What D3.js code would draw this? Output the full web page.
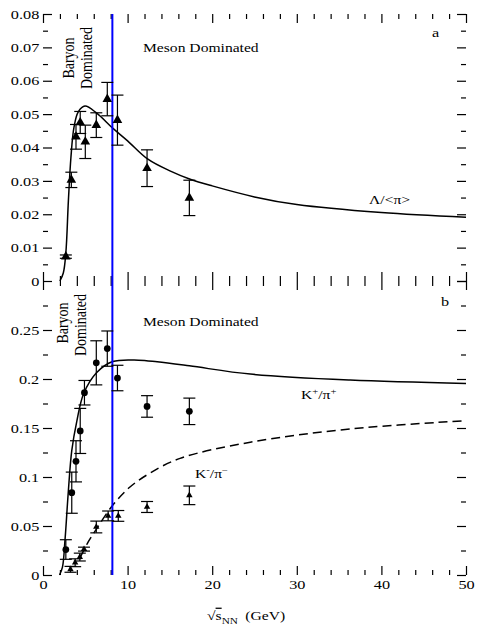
<!DOCTYPE html>
<html>
<head>
<meta charset="utf-8">
<script src="https://cdn.jsdelivr.net/npm/d3@7"></script>
<style>
body { margin: 0; background: #fff; }
svg text { font-family: "Liberation Serif", "Times New Roman", serif; fill: #000; }
</style>
</head>
<body>
<div id="chart"></div>
<script>
(function () {

// panel a : Lambda / <pi>
var lamE   = [2.7, 3.35, 3.9, 4.4, 5.0, 6.3, 7.6, 8.8, 12.3, 17.3];
var lamVal = [0.0073, 0.0303, 0.0432, 0.0475, 0.0417, 0.0467, 0.0545, 0.0482, 0.0338, 0.0249];
var lamErr = [0.0005, 0.0023, 0.0037, 0.0033, 0.005, 0.0037, 0.005, 0.0075, 0.0055, 0.0053];
var lamCurveE = [2.0, 2.4, 2.7, 3.0, 3.3, 3.66, 4.17, 4.96, 6.35, 8.24, 10, 12.4, 15, 17.4, 20, 25, 30, 40, 50];
var lamCurveV = [0, 0.0024, 0.0084, 0.024, 0.037, 0.046, 0.0507, 0.0524, 0.0503, 0.0458, 0.042, 0.0365, 0.033, 0.0305, 0.0285, 0.0252, 0.0229, 0.0205, 0.0191];

// panel b : K+/pi+ and K-/pi-
var kpE   = [2.7, 3.4, 3.9, 4.4, 4.9, 6.3, 7.6, 8.8, 12.3, 17.3];
var kpVal = [0.026, 0.084, 0.116, 0.147, 0.186, 0.2165, 0.231, 0.201, 0.172, 0.167];
var kpErr = [0.01, 0.021, 0.021, 0.023, 0.0125, 0.0225, 0.018, 0.013, 0.011, 0.0135];
var kmE   = [3.25, 3.8, 4.35, 4.85, 6.3, 7.7, 8.9, 12.3, 17.3];
var kmVal = [0.0058, 0.0125, 0.0183, 0.0264, 0.049, 0.0603, 0.0603, 0.0694, 0.0813];
var kmErr = [0.003, 0.004, 0.004, 0.002, 0.006, 0.005, 0.0055, 0.0056, 0.0095];
var kpCurveE = [1.95, 2.3, 2.6, 3.0, 3.4, 4.0, 4.8, 6.35, 8.24, 11.3, 13.5, 17.3, 24.5, 36.3, 50];
var kpCurveV = [0, 0.008, 0.0356, 0.086, 0.127, 0.157, 0.185, 0.2066, 0.2178, 0.2192, 0.2175, 0.2134, 0.205, 0.1989, 0.1954];
var kmCurveE = [4.4, 5.36, 6.35, 8.24, 10.28, 12.65, 16.2, 24.5, 36.3, 50];
var kmCurveV = [0.018, 0.034, 0.0474, 0.0711, 0.0898, 0.104, 0.119, 0.1355, 0.149, 0.1575];

var boundaryE = 8.2;   // baryon / meson dominated

var xMajor = [0, 10, 20, 30, 40, 50];
var xMinor = d3.range(0, 51, 2).filter(function (d) { return d % 10 !== 0; });
var yaMajor = d3.range(0, 9).map(function (i) { return i * 0.01; });
var yaMinor = d3.range(0, 8).map(function (i) { return i * 0.01 + 0.005; });
var ybMajor = d3.range(0, 7).map(function (i) { return i * 0.05; });
var ybMinor = d3.range(0, 6).map(function (i) { return i * 0.05 + 0.025; });

var margin = {top: 14, right: 11, bottom: 52, left: 43},
    width = 477 - margin.left - margin.right,
    hA = 267,
    hB = 294;

var x = d3.scaleLinear().domain([0, 50]).range([margin.left, margin.left + width]);
var yA = d3.scaleLinear().domain([0, 0.08]).range([margin.top + hA, margin.top]);
var yB = d3.scaleLinear().domain([0, 0.3]).range([margin.top + hA + hB, margin.top + hA]);

var svg = d3.select("#chart").append("svg")
    .attr("width", 477)
    .attr("height", 627);

var fmt = d3.format("~g");
var sx = 1.25;  // the original figure is stretched sideways

function axis(fn, scale, values, size, tr, labels) {
	var a = fn(scale).tickValues(values).tickSize(-size).tickPadding(labels ? 3 : 0)
		.tickFormat(labels ? fmt : "");
	var g = svg.append("g").attr("transform", tr).call(a);
	g.select(".domain").remove();
	g.attr("font-size", 13);
	g.selectAll("line").attr("stroke", "#000").attr("stroke-width", 1.2);
	if (labels) g.selectAll("text").attr("transform", "scale(" + sx + ",1)");
	return g;
}

var topA = margin.top, botA = margin.top + hA, botB = margin.top + hA + hB;
var right = margin.left + width;

[[xMajor, 9], [xMinor, 5]].forEach(function (t) {
	axis(d3.axisTop, x, t[0], t[1], "translate(0," + topA + ")", false);
	axis(d3.axisBottom, x, t[0], t[1], "translate(0," + botA + ")", false);
	axis(d3.axisTop, x, t[0], t[1], "translate(0," + botA + ")", false);
});
axis(d3.axisBottom, x, xMajor, 9, "translate(0," + botB + ")", true)
	.selectAll("text").attr("y", 5);
axis(d3.axisBottom, x, xMinor, 5, "translate(0," + botB + ")", false);

axis(d3.axisLeft, yA, yaMajor, 9, "translate(" + margin.left + ",0)", true);
axis(d3.axisLeft, yA, yaMinor, 5, "translate(" + margin.left + ",0)", false);
axis(d3.axisRight, yA, yaMajor, 9, "translate(" + right + ",0)", false);
axis(d3.axisRight, yA, yaMinor, 5, "translate(" + right + ",0)", false);

axis(d3.axisLeft, yB, ybMajor.slice(0, 6), 9, "translate(" + margin.left + ",0)", true);
axis(d3.axisLeft, yB, ybMinor, 5, "translate(" + margin.left + ",0)", false);
axis(d3.axisRight, yB, ybMajor, 9, "translate(" + right + ",0)", false);
axis(d3.axisRight, yB, ybMinor, 5, "translate(" + right + ",0)", false);

// curves
function curve(es, vs, y, dash) {
	var line = d3.line()
		.x(function (d) { return x(d[0]); })
		.y(function (d) { return y(d[1]); })
		.curve(d3.curveCatmullRom.alpha(0.5));
	svg.append("path")
		.attr("d", line(d3.zip(es, vs)))
		.attr("fill", "none")
		.attr("stroke", "#000")
		.attr("stroke-width", 1.5)
		.attr("stroke-dasharray", dash || null);
}
curve(lamCurveE, lamCurveV, yA);
curve(kpCurveE, kpCurveV, yB);
curve(kmCurveE, kmCurveV, yB, "9,5");

// boundary line
svg.append("line")
	.attr("x1", x(boundaryE)).attr("x2", x(boundaryE))
	.attr("y1", yA(0.08)).attr("y2", yB(0))
	.attr("stroke", "#0000ff")
	.attr("stroke-width", 2);

// error bars + markers
function points(es, vs, errs, y, sym) {
	var g = svg.append("g").selectAll("g")
		.data(d3.zip(es, vs, errs))
		.enter().append("g");
	g.append("line")
		.attr("x1", function (d) { return x(d[0]); })
		.attr("x2", function (d) { return x(d[0]); })
		.attr("y1", function (d) { return y(d[1] - d[2]); })
		.attr("y2", function (d) { return y(d[1] + d[2]); })
		.attr("stroke", "#000").attr("stroke-width", 1.2);
	[-1, 1].forEach(function (s) {
		g.append("line")
			.attr("x1", function (d) { return x(d[0]) - 6; })
			.attr("x2", function (d) { return x(d[0]) + 6; })
			.attr("y1", function (d) { return y(d[1] + s * d[2]); })
			.attr("y2", function (d) { return y(d[1] + s * d[2]); })
			.attr("stroke", "#000").attr("stroke-width", 1.2);
	});
	g.append("path")
		.attr("d", sym)
		.attr("transform", function (d) { return "translate(" + x(d[0]) + "," + y(d[1]) + ")"; })
		.attr("fill", "#000");
}
points(lamE, lamVal, lamErr, yA, d3.symbol(d3.symbolTriangle, 40)());
points(kpE, kpVal, kpErr, yB, d3.symbol(d3.symbolCircle, 36)());
points(kmE, kmVal, kmErr, yB, d3.symbol(d3.symbolTriangle, 18)());

// text labels
function label(px, py, size, parts, rot) {
	var t = svg.append("text")
		.attr("transform", "translate(" + px + "," + py + ")" +
			(rot ? " rotate(-90) scale(1," + sx + ")" : " scale(" + sx + ",1)"))
		.attr("font-size", size)
		.attr("text-anchor", rot ? "middle" : "start");
	parts.forEach(function (p) {
		var s = t.append("tspan").text(p[0]);
		if (p[1]) s.attr("dy", p[1]);
		if (p[2]) s.attr("font-size", p[2]);
		if (p[3]) s.style("text-decoration", p[3]);
		if (p[4]) s.attr("dx", p[4]);
	});
	return t;
}

label(143, 52, 12.5, [["Meson Dominated"]]);
label(143, 326, 12.5, [["Meson Dominated"]]);
label(74, 58, 14, [["Baryon"]], true);
label(92, 58, 14, [["Dominated"]], true);
label(68, 323, 14, [["Baryon"]], true);
label(86, 325, 14, [["Dominated"]], true);
label(432, 37, 13, [["a"]]);
label(441, 306, 13, [["b"]]);
label(369, 204, 12.5, [["Λ/<π>"]]);
label(301, 399, 12.5, [["K"], ["+", -5, 8.5], ["/π", 5], ["+", -5, 8.5]]);
label(195, 478, 12.5, [["K"], ["-", -5, 8.5], ["/π", 5], ["−", -5, 8.5]]);
label(207, 620, 12.5, [["√"], ["s", 0, null, "overline"], ["NN", 4, 9], ["(GeV)", -4, null, null, 6]]);

})();
</script>
</body>
</html>
